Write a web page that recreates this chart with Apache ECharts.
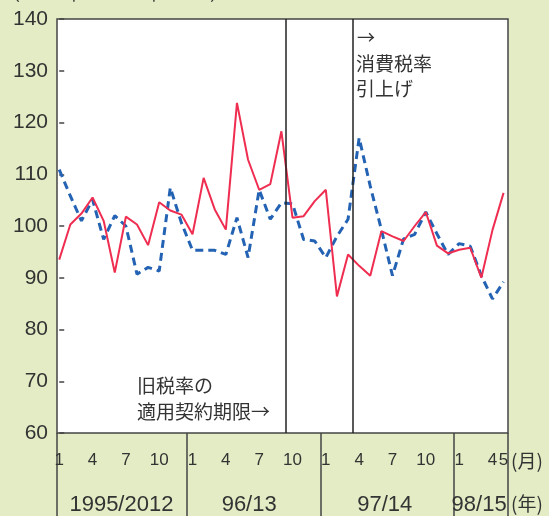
<!DOCTYPE html>
<html>
<head>
<meta charset="utf-8">
<script src="https://cdn.jsdelivr.net/npm/echarts@6/dist/echarts.min.js"></script>
<style>
html, body { margin: 0; padding: 0; background: #e3ecc4; }
#main { width: 549px; height: 516px; }
</style>
</head>
<body>
<div id="main"></div>
<script>
// 1995/1 〜 1998/5 の月
var months = [1, 2, 3, 4, 5, 6, 7, 8, 9, 10, 11, 12,
              1, 2, 3, 4, 5, 6, 7, 8, 9, 10, 11, 12,
              1, 2, 3, 4, 5, 6, 7, 8, 9, 10, 11, 12,
              1, 2, 3, 4, 5]
// 実線（赤）
var redValues = [93.5, 100.3, 102.4, 105.5, 101, 91, 101.8, 100.3, 96.3, 104.6, 103, 102.2,
                 98.4, 109.3, 103.2, 99.3, 123.8, 112.8, 107, 108.1, 118.3, 101.6, 101.9, 104.8,
                 107, 86.4, 94.5, 92.3, 90.4, 99, 98, 97.1, 100, 102.7, 96.2, 94.7,
                 95.4, 95.8, 90, 99.2, 106.4]
// 点線（青）
var blueValues = [110.9, 105.8, 101, 105.1, 97.4, 102, 100, 90.7, 92, 91.3, 107.4, 100.6,
                  95.3, 95.3, 95.3, 94.5, 101.6, 93.9, 107, 101.3, 104.5, 104.3, 97.4, 97.1,
                  93.9, 98, 101.3, 117, 107.7, 99.3, 90.4, 97.5, 98.4, 102.7, 98.5, 94.5,
                  96.6, 96.1, 90.4, 85.9, 89.2]
var monthTicks = [0, 3, 6, 9, 12, 15, 18, 21, 24, 27, 30, 33, 36, 39, 40]
var yearLabels = ['1995/2012', '96/13', '97/14', '98/15']
var yearCenters = [5.6, 17.1, 29.3, 37.8]
var yearBreaks = [-0.2, 11.5, 23.5, 35.5, 40.4]
var eventLines = [20.36, 26.45] // 旧税率の適用契約期限 / 消費税率引上げ

var myChart = echarts.init(document.getElementById('main'))
var txtColor = '#333'
var jpFont = '"Noto Sans CJK JP", sans-serif'

var option = {
    animation: false,
    grid: {
        left: 57,
        right: 41,
        top: 19,
        bottom: 82,
        show: true,
        backgroundColor: '#fff',
        borderColor: '#444',
        borderWidth: 1.5
    },
    xAxis: [
        {
            type: 'value',
            min: -0.2,
            max: 40.4,
            position: 'bottom',
            axisLine: { show: false },
            axisTick: { show: false },
            splitLine: { show: false },
            axisLabel: {
                customValues: monthTicks,
                formatter: function (v) { return String(months[Math.round(v)]) },
                margin: 19,
                fontSize: 17,
                fontFamily: 'Liberation Sans',
                color: txtColor
            }
        },
        {
            type: 'value',
            min: -0.2,
            max: 40.4,
            position: 'bottom',
            axisLine: { show: false },
            splitLine: { show: false },
            axisTick: {
                show: true,
                customValues: yearBreaks,
                length: 84,
                lineStyle: { color: '#444', width: 1.5 }
            },
            axisLabel: {
                customValues: yearCenters,
                formatter: function (v) { return yearLabels[yearCenters.indexOf(v)] },
                margin: 61,
                fontSize: 22,
                fontFamily: 'Liberation Sans',
                color: txtColor
            }
        }
    ],
    yAxis: {
        type: 'value',
        min: 60,
        max: 140,
        interval: 10,
        axisLine: { show: false },
        splitLine: { show: false },
        axisTick: {
            show: true,
            inside: true,
            length: 5,
            lineStyle: { color: '#444', width: 1.5 }
        },
        axisLabel: {
            margin: 9,
            fontSize: 21,
            fontFamily: 'Liberation Sans',
            color: txtColor
        }
    },
    series: [
        {
            type: 'line',
            data: redValues.map(function (v, i) { return [i, v] }),
            symbol: 'none',
            lineStyle: { color: '#ef2d50', width: 2 },
            z: 3,
            markLine: {
                silent: true,
                symbol: ['none', 'none'],
                label: { show: false },
                lineStyle: { color: '#222', width: 1.5, type: 'solid' },
                data: eventLines.map(function (x) { return { xAxis: x } })
            }
        },
        {
            type: 'line',
            data: blueValues.map(function (v, i) { return [i, v] }),
            symbol: 'none',
            lineStyle: { color: '#2463b4', width: 3, type: [8, 5] },
            z: 2
        }
    ],
    graphic: [
        {
            type: 'text', left: 2, top: -16,
            style: { text: '（1995 年＝2012 年＝100）', fontSize: 18, fontFamily: jpFont, fill: txtColor }
        },
        {
            type: 'text', left: 357, top: 28,
            style: { text: '→', fontSize: 18, fontFamily: jpFont, fill: txtColor }
        },
        {
            type: 'text', left: 356, top: 51,
            style: { text: '消費税率\n引上げ', fontSize: 19, lineHeight: 25, fontFamily: jpFont, fill: txtColor }
        },
        {
            type: 'text', left: 137, top: 373,
            style: { text: '旧税率の\n適用契約期限→', fontSize: 19, lineHeight: 26, fontFamily: jpFont, fill: txtColor }
        },
        {
            type: 'text', left: 511, top: 451,
            style: { text: '(月)', fontSize: 19, fontFamily: jpFont, fill: txtColor }
        },
        {
            type: 'text', left: 511, top: 494,
            style: { text: '(年)', fontSize: 19, fontFamily: jpFont, fill: txtColor }
        }
    ]
}

option && myChart.setOption(option)
</script>
</body>
</html>
